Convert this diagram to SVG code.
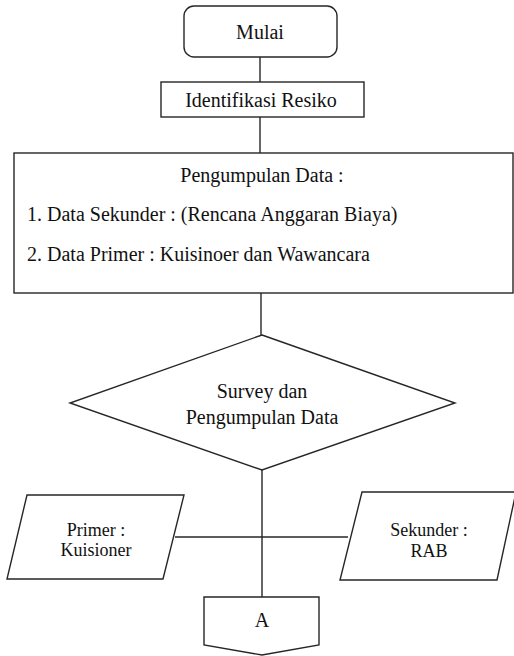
<svg xmlns="http://www.w3.org/2000/svg" width="514" height="656" viewBox="0 0 514 656">
<style>
.s{fill:#fff;stroke:#262626;stroke-width:1.4}
.c{fill:none;stroke:#262626;stroke-width:1.4}
text{font-family:'Liberation Serif','DejaVu Serif',serif;font-size:20px;fill:#111}
.m{text-anchor:middle}
.p{font-size:18px}
</style>
<rect width="514" height="656" fill="#fff"/>
<g id="connectors">
<line class="c" x1="260" y1="57" x2="260" y2="82"/>
<line class="c" x1="260" y1="117" x2="260" y2="153"/>
<line class="c" x1="261" y1="293" x2="261" y2="335"/>
<line class="c" x1="262" y1="470" x2="262" y2="597"/>
<line class="c" x1="175" y1="537" x2="348" y2="537"/>
</g>
<g id="mulai">
<rect class="s" x="184" y="6" width="153" height="51" rx="10"/>
<text class="m" x="260" y="39">Mulai</text>
</g>
<g id="identifikasi">
<rect class="s" x="161" y="82" width="203" height="35"/>
<text class="m" x="261" y="107">Identifikasi Resiko</text>
</g>
<g id="pengumpulan">
<rect class="s" x="14" y="153" width="499" height="140"/>
<text class="m" x="262" y="182">Pengumpulan Data :</text>
<text x="27" y="221">1. Data Sekunder : (Rencana Anggaran Biaya)</text>
<text x="27" y="261">2. Data Primer : Kuisinoer dan Wawancara</text>
</g>
<g id="survey">
<polygon class="s" points="262,335 455,403 262,470 70,403"/>
<text class="m" x="262" y="398">Survey dan</text>
<text class="m" x="262" y="424">Pengumpulan Data</text>
</g>
<g id="primer">
<polygon class="s" points="27,495 184,495 163,579 7,579"/>
<text class="m p" x="96" y="536">Primer :</text>
<text class="m p" x="96" y="556">Kuisioner</text>
</g>
<g id="sekunder">
<polygon class="s" points="362,492 516,492 497,580 340,580"/>
<text class="m p" x="429" y="536">Sekunder :</text>
<text class="m p" x="429" y="557">RAB</text>
</g>
<g id="a">
<polygon class="s" points="204,597 319,597 319,645 262,655 204,645"/>
<text class="m" x="262" y="627">A</text>
</g>
</svg>
